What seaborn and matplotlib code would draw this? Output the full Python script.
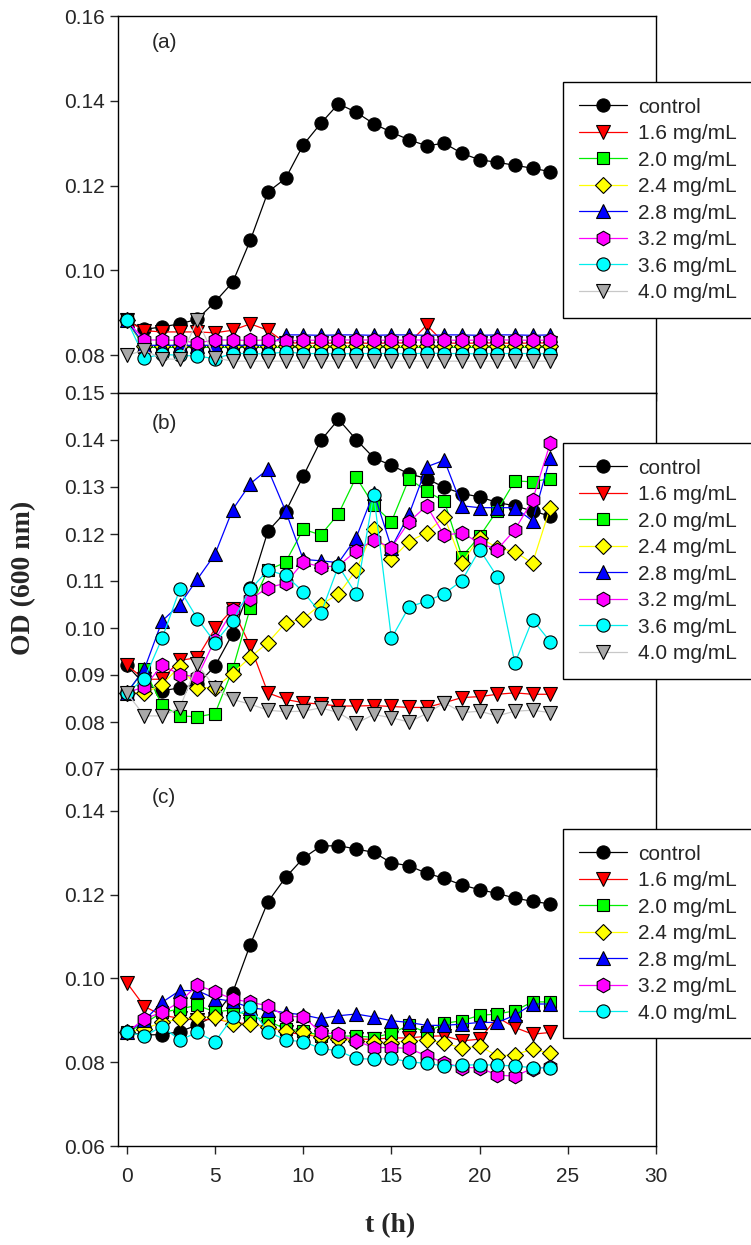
import numpy as np
import pandas as pd
import matplotlib
matplotlib.use("Agg")
import matplotlib.pyplot as plt
import seaborn as sns

# ---------------- data ----------------
t = list(range(25))

a_control = [0.0882, 0.0861, 0.0867, 0.0874, 0.0885, 0.0926, 0.0972, 0.1071, 0.1185, 0.1217, 0.1296, 0.1347, 0.1393,
             0.1373, 0.1346, 0.1326, 0.1308, 0.1294, 0.1300, 0.1276, 0.1261, 0.1255, 0.1248, 0.1241, 0.1233]
a_16 = [0.0882, 0.0858, 0.0855, 0.0855, 0.0855, 0.0853, 0.0859, 0.0874, 0.0859, 0.0829, 0.0829, 0.0828, 0.0829,
        0.0829, 0.0828, 0.0829, 0.0829, 0.0871, 0.0829, 0.0828, 0.0829, 0.0829, 0.0828, 0.0829, 0.0829]
a_20 = [0.0882, 0.0819, 0.0818, 0.0819, 0.0818, 0.0819, 0.0818, 0.0819, 0.0818, 0.0819, 0.0818, 0.0819, 0.0818,
        0.0819, 0.0818, 0.0819, 0.0818, 0.0819, 0.0818, 0.0819, 0.0818, 0.0819, 0.0818, 0.0819, 0.0818]
a_24 = [0.0882, 0.0822, 0.0823, 0.0822, 0.0823, 0.0822, 0.0823, 0.0823, 0.0822, 0.0822, 0.0823, 0.0822, 0.0823,
        0.0822, 0.0823, 0.0822, 0.0823, 0.0822, 0.0823, 0.0822, 0.0823, 0.0822, 0.0823, 0.0822, 0.0823]
a_28 = [0.0882, 0.0824, 0.0823, 0.0824, 0.0823, 0.0824, 0.0823, 0.0824, 0.0823, 0.0848, 0.0848, 0.0847, 0.0848,
        0.0848, 0.0847, 0.0848, 0.0848, 0.0847, 0.0848, 0.0848, 0.0847, 0.0848, 0.0848, 0.0847, 0.0848]
a_32 = [0.0882, 0.0836, 0.0836, 0.0835, 0.0829, 0.0836, 0.0836, 0.0835, 0.0836, 0.0833, 0.0836, 0.0835, 0.0836,
        0.0836, 0.0836, 0.0835, 0.0836, 0.0836, 0.0836, 0.0835, 0.0836, 0.0836, 0.0836, 0.0835, 0.0836]
a_36 = [0.0883, 0.0794, 0.0802, 0.0800, 0.0798, 0.0792, 0.0804, 0.0804, 0.0803, 0.0808, 0.0804, 0.0804, 0.0803,
        0.0804, 0.0804, 0.0804, 0.0803, 0.0805, 0.0804, 0.0804, 0.0803, 0.0804, 0.0804, 0.0804, 0.0803]
a_40 = [0.0800, 0.0812, 0.0792, 0.0790, 0.0883, 0.0794, 0.0786, 0.0786, 0.0786, 0.0786, 0.0786, 0.0786, 0.0786,
        0.0786, 0.0786, 0.0786, 0.0786, 0.0786, 0.0786, 0.0786, 0.0786, 0.0786, 0.0786, 0.0786, 0.0786]

b_control = [0.0921, 0.0880, 0.0866, 0.0873, 0.0880, 0.0919, 0.0988, 0.1085, 0.1206, 0.1247, 0.1323, 0.1399, 0.1444,
             0.1401, 0.1362, 0.1346, 0.1328, 0.1318, 0.1299, 0.1286, 0.1279, 0.1267, 0.1260, 0.1249, 0.1238]
b_16 = [0.0921, 0.0891, 0.0891, 0.0931, 0.0937, 0.0999, 0.1040, 0.0962, 0.0862, 0.0848, 0.0841, 0.0838, 0.0834,
        0.0834, 0.0835, 0.0833, 0.0831, 0.0831, 0.0841, 0.0852, 0.0854, 0.0859, 0.0862, 0.0859, 0.0859]
b_20 = [0.0862, 0.0912, 0.0836, 0.0813, 0.0811, 0.0818, 0.0912, 0.1043, 0.1123, 0.1140, 0.1210, 0.1198, 0.1243,
        0.1321, 0.1261, 0.1226, 0.1318, 0.1291, 0.1270, 0.1152, 0.1195, 0.1250, 0.1313, 0.1311, 0.1318]
b_24 = [0.0862, 0.0862, 0.0879, 0.0919, 0.0873, 0.0873, 0.0903, 0.0938, 0.0969, 0.1011, 0.1020, 0.1050, 0.1072,
        0.1123, 0.1210, 0.1146, 0.1184, 0.1203, 0.1236, 0.1139, 0.1192, 0.1171, 0.1162, 0.1138, 0.1256]
b_28 = [0.0862, 0.0913, 0.1015, 0.1050, 0.1104, 0.1157, 0.1252, 0.1307, 0.1338, 0.1249, 0.1146, 0.1143, 0.1139,
        0.1192, 0.1288, 0.1171, 0.1242, 0.1343, 0.1357, 0.1260, 0.1256, 0.1256, 0.1256, 0.1228, 0.1362]
b_32 = [0.0862, 0.0875, 0.0921, 0.0901, 0.0896, 0.0975, 0.1038, 0.1061, 0.1086, 0.1095, 0.1140, 0.1130, 0.1132,
        0.1164, 0.1187, 0.1171, 0.1226, 0.1260, 0.1197, 0.1203, 0.1180, 0.1167, 0.1209, 0.1272, 0.1393]
b_36 = [0.0862, 0.0892, 0.0978, 0.1082, 0.1020, 0.0969, 0.1015, 0.1082, 0.1123, 0.1112, 0.1077, 0.1031, 0.1132,
        0.1072, 0.1284, 0.0978, 0.1045, 0.1057, 0.1073, 0.1101, 0.1167, 0.1109, 0.0925, 0.1018, 0.0971]
b_40 = [0.0862, 0.0813, 0.0813, 0.0830, 0.0923, 0.0873, 0.0848, 0.0838, 0.0825, 0.0822, 0.0823, 0.0830, 0.0820,
        0.0797, 0.0816, 0.0809, 0.0800, 0.0818, 0.0841, 0.0820, 0.0823, 0.0813, 0.0823, 0.0825, 0.0820]

c_control = [0.0871, 0.0865, 0.0866, 0.0873, 0.0889, 0.0912, 0.0966, 0.1081, 0.1183, 0.1241, 0.1287, 0.1316, 0.1317,
             0.1309, 0.1301, 0.1276, 0.1269, 0.1251, 0.1239, 0.1223, 0.1212, 0.1203, 0.1192, 0.1184, 0.1178]
c_16 = [0.0990, 0.0933, 0.0912, 0.0905, 0.0900, 0.0903, 0.0895, 0.0891, 0.0885, 0.0872, 0.0866, 0.0861, 0.0856,
        0.0855, 0.0855, 0.0858, 0.0858, 0.0862, 0.0863, 0.0851, 0.0855, 0.0907, 0.0883, 0.0867, 0.0871]
c_20 = [0.0871, 0.0893, 0.0919, 0.0927, 0.0936, 0.0920, 0.0925, 0.0911, 0.0899, 0.0879, 0.0875, 0.0863, 0.0862,
        0.0863, 0.0859, 0.0869, 0.0888, 0.0871, 0.0893, 0.0899, 0.0912, 0.0915, 0.0923, 0.0944, 0.0944]
c_24 = [0.0871, 0.0880, 0.0895, 0.0903, 0.0907, 0.0909, 0.0891, 0.0891, 0.0883, 0.0875, 0.0871, 0.0860, 0.0855,
        0.0851, 0.0848, 0.0847, 0.0851, 0.0853, 0.0847, 0.0833, 0.0839, 0.0815, 0.0818, 0.0831, 0.0822]
c_28 = [0.0871, 0.0900, 0.0943, 0.0971, 0.0971, 0.0952, 0.0945, 0.0930, 0.0925, 0.0918, 0.0913, 0.0904, 0.0911,
        0.0915, 0.0908, 0.0899, 0.0895, 0.0888, 0.0888, 0.0891, 0.0895, 0.0895, 0.0912, 0.0939, 0.0939]
c_32 = [0.0871, 0.0904, 0.0919, 0.0944, 0.0984, 0.0968, 0.0951, 0.0943, 0.0935, 0.0909, 0.0909, 0.0871, 0.0867,
        0.0851, 0.0835, 0.0835, 0.0833, 0.0815, 0.0799, 0.0787, 0.0787, 0.0769, 0.0767, 0.0785, 0.0789]
c_40 = [0.0871, 0.0863, 0.0885, 0.0853, 0.0871, 0.0849, 0.0907, 0.0931, 0.0873, 0.0853, 0.0849, 0.0833, 0.0827,
        0.0809, 0.0807, 0.0809, 0.0801, 0.0797, 0.0791, 0.0793, 0.0794, 0.0793, 0.0791, 0.0787, 0.0786]

labels_ab = ["control", "1.6 mg/mL", "2.0 mg/mL", "2.4 mg/mL", "2.8 mg/mL", "3.2 mg/mL", "3.6 mg/mL", "4.0 mg/mL"]
labels_c = ["control", "1.6 mg/mL", "2.0 mg/mL", "2.4 mg/mL", "2.8 mg/mL", "3.2 mg/mL", "4.0 mg/mL"]

panel_a = [a_control, a_16, a_20, a_24, a_28, a_32, a_36, a_40]
panel_b = [b_control, b_16, b_20, b_24, b_28, b_32, b_36, b_40]
panel_c = [c_control, c_16, c_20, c_24, c_28, c_32, c_40]

# ---------------- styles ----------------
style_map = {
    "control":   dict(color="black", mfc="black", marker="o", ms=9.5),
    "1.6 mg/mL": dict(color="#ff0000", mfc="#ff0000", marker="v", ms=10),
    "2.0 mg/mL": dict(color="#00ee00", mfc="#00ff00", marker="s", ms=8.5),
    "2.4 mg/mL": dict(color="#ffff00", mfc="#ffff00", marker="D", ms=8),
    "2.8 mg/mL": dict(color="#0000ff", mfc="#0000ff", marker="^", ms=10),
    "3.2 mg/mL": dict(color="#ff00ff", mfc="#ff00ff", marker="h", ms=10.5),
    "3.6 mg/mL": dict(color="#00eeee", mfc="#00ffff", marker="o", ms=9.5),
    "4.0 mg/mL": dict(color="#c8c8c8", mfc="#a8a8a8", marker="v", ms=10),
}
style_c_40 = dict(color="#00eeee", mfc="#00ffff", marker="o", ms=9.5)

sns.set_style("ticks")
plt.rcParams["font.family"] = ["Liberation Sans", "DejaVu Sans"]
plt.rcParams["axes.linewidth"] = 1.0

W, H = 751, 1245
fig = plt.figure(figsize=(W / 100, H / 100), dpi=100)

left = 118 / W
width = (656 - 118) / W
panels = [
    ("(a)", panel_a, labels_ab, 16, 393, (0.0711, 0.16), [0.08, 0.10, 0.12, 0.14, 0.16], 82, 0.93),
    ("(b)", panel_b, labels_ab, 393, 769, (0.07, 0.15), [0.07, 0.08, 0.09, 0.10, 0.11, 0.12, 0.13, 0.14, 0.15], 443, 0.92),
    ("(c)", panel_c, labels_c, 769, 1146, (0.06, 0.15), [0.06, 0.08, 0.10, 0.12, 0.14], 829, 0.925),
]

for i, (tag, series, labs, ytop, ybot, ylim, yticks, legtop, tagy) in enumerate(panels):
    ax = fig.add_axes([left, 1 - ybot / H, width, (ybot - ytop) / H])
    for j, (lab, vals) in enumerate(zip(labs, series)):
        st = style_map[lab]
        if tag == "(c)" and lab == "4.0 mg/mL":
            st = style_c_40
        df = pd.DataFrame({"t": t, "od": vals})
        sns.lineplot(data=df, x="t", y="od", ax=ax, color=st["color"], marker=st["marker"],
                     markersize=st["ms"], markerfacecolor=st["mfc"], markeredgecolor="black",
                     markeredgewidth=0.8, linewidth=0.9, label=lab, legend=False, zorder=2 + j)
    ax.set_xlim(-0.5, 30)
    ax.set_ylim(*ylim)
    ax.set_yticks(yticks)
    ax.set_yticklabels([f"{v:.2f}" for v in yticks])
    ax.set_xticks([0, 5, 10, 15, 20, 25, 30])
    ax.set_xlabel("")
    ax.set_ylabel("")
    ax.tick_params(axis="both", direction="out", length=6, width=1, labelsize=15, top=False, right=False)
    ax.tick_params(axis="x", pad=9)
    if tag != "(c)":
        ax.tick_params(axis="x", labelbottom=False)
    for sp in ax.spines.values():
        sp.set_visible(True)
        sp.set_linewidth(1.0)
        sp.set_color("black")
    ax.text(0.062, tagy, tag, transform=ax.transAxes, fontsize=15, va="center", ha="left")
    handles, hlabels = ax.get_legend_handles_labels()
    leg = ax.legend(handles, hlabels, loc="upper left", bbox_to_anchor=(563 / W, 1 - legtop / H),
                    bbox_transform=fig.transFigure, borderaxespad=0, fontsize=15, frameon=True,
                    fancybox=False, edgecolor="black", framealpha=1, handlelength=2.3,
                    handletextpad=0.55, labelspacing=0.36, borderpad=0.75)
    leg.get_frame().set_linewidth(1.0)
    leg.set_zorder(20)

fig.text(0.032, 1 - 578 / H, "OD (600 nm)", rotation=90, ha="center", va="center",
         fontsize=20, fontweight="bold", family="Liberation Serif")
fig.text(390 / W, 1 - 1226 / H, "t (h)", ha="center", va="center",
         fontsize=20, fontweight="bold", family="Liberation Serif")

fig.savefig("out.png", dpi=100)
